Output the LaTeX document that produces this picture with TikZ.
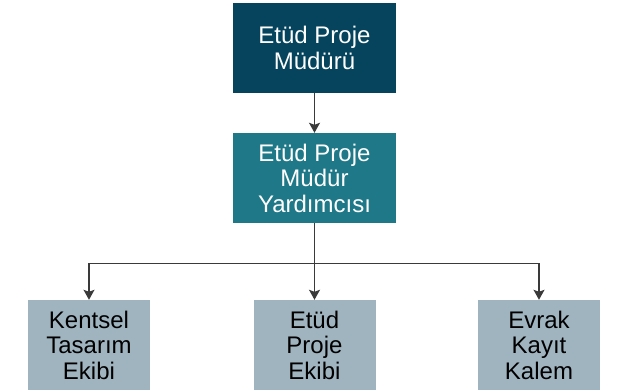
\documentclass[tikz,border=0pt]{standalone}
\usepackage{fontspec}
\setmainfont{Liberation Sans}
\usetikzlibrary{arrows.meta}
\definecolor{topc}{HTML}{05445C}
\definecolor{midc}{HTML}{1F7887}
\definecolor{botc}{HTML}{A0B4C0}
\definecolor{linec}{HTML}{3A3A3A}
\tikzset{
  box/.style={rectangle, inner sep=0pt, align=center, font=\fontsize{24}{25.5}\selectfont},
  bigbox/.style={box, minimum width=163pt, minimum height=90pt, text=white},
  smallbox/.style={box, fill=botc, minimum width=122pt, minimum height=90pt, text=black},
  conn/.style={draw=linec, line width=1.3pt, -{Stealth[length=10pt,width=11pt,inset=2pt]}}
}
\begin{document}
\begin{tikzpicture}[x=1pt,y=-1pt]
\useasboundingbox (0,0) rectangle (633,390);
\node[bigbox, fill=topc] (top) at (314.5,48) {Etüd Proje\\Müdürü};
\node[bigbox, fill=midc] (mid) at (314.5,178) {Etüd Proje\\Müdür\\Yardımcısı};
\node[smallbox] (b1) at (89,345) {Kentsel\\Tasarım\\Ekibi};
\node[smallbox] (b2) at (314.5,345) {Etüd\\Proje\\Ekibi};
\node[smallbox] (b3) at (539,345) {Evrak\\Kayıt\\Kalem};
\draw[conn] (top.south) -- (mid.north);
\draw[conn] (mid.south) -- (b2.north);
\draw[conn] (mid.south) -- ++(0,40) -| (b1.north);
\draw[conn] (mid.south) -- ++(0,40) -| (b3.north);
\end{tikzpicture}
\end{document}
